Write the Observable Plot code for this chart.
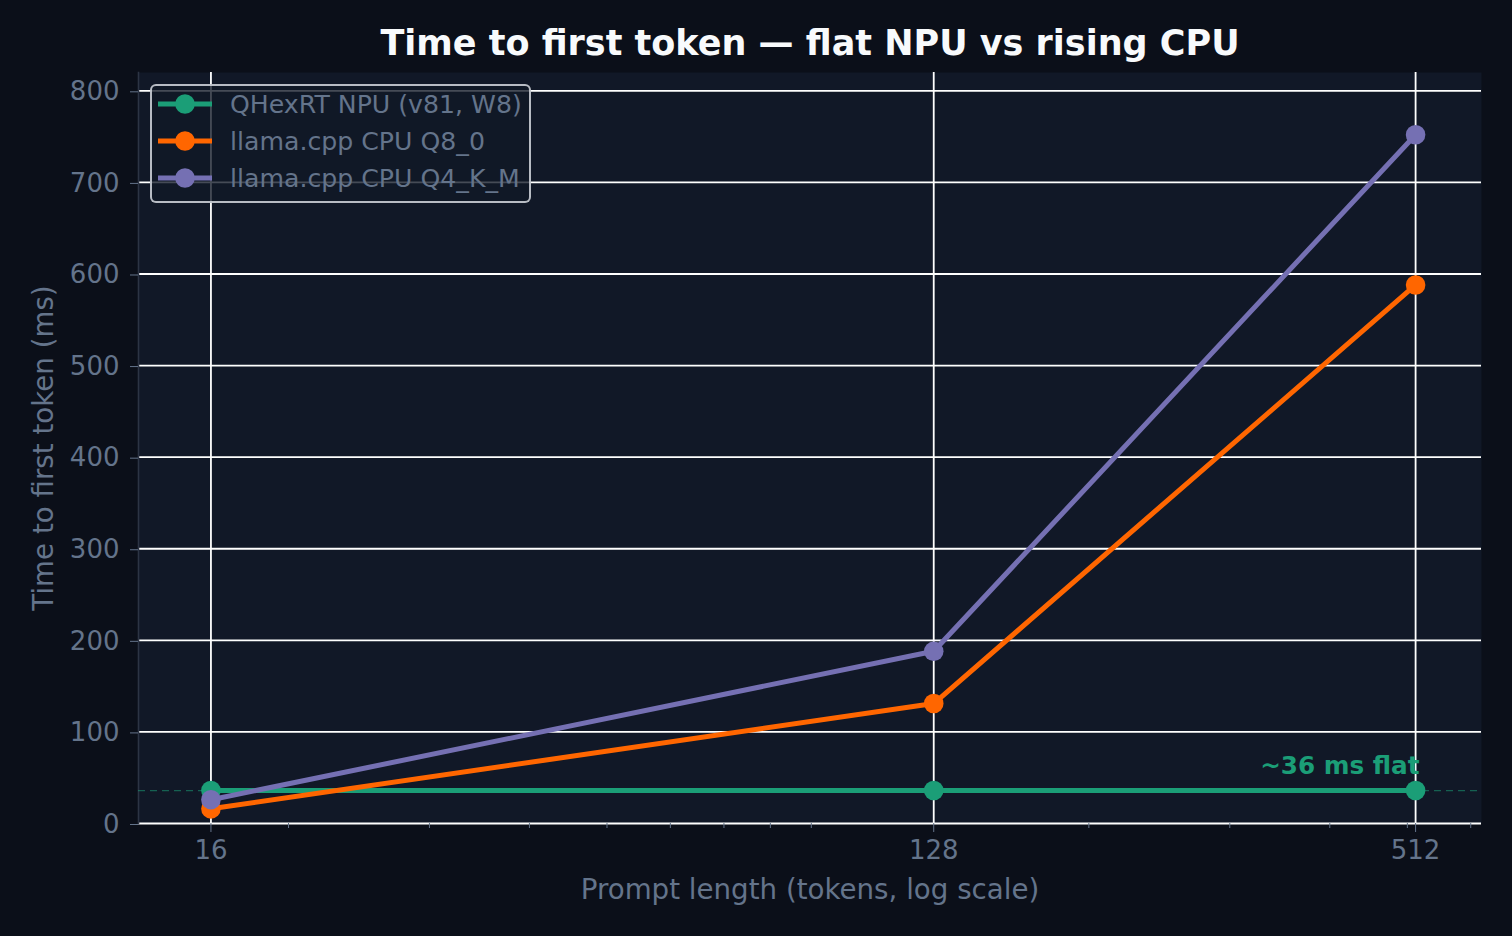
<!DOCTYPE html>
<html>
<head>
<meta charset="utf-8">
<script src="https://cdn.jsdelivr.net/npm/d3@7"></script>
<script src="https://cdn.jsdelivr.net/npm/@observablehq/plot@0.6"></script>
<style>
  html, body { margin: 0; padding: 0; background: #0b0f19; }
  body { width: 1512px; height: 936px; position: relative; overflow: hidden; font-family: "DejaVu Sans", sans-serif; }
  #title { position: absolute; left: 138px; width: 1344px; top: 0; height: 60px; box-sizing: border-box; padding-top: 26px;
           text-align: center; font-size: 35px; line-height: 35px; font-weight: bold; color: #f8fafc; white-space: nowrap; }
  #chart { position: absolute; left: 0; top: 60px; }
  #legend { position: absolute; left: 150px; top: 84px; width: 381px; height: 119px; box-sizing: border-box;
            border: 2px solid rgba(215,218,224,0.85); border-radius: 6px; background: rgba(17,24,39,0.78); }
  .row { position: absolute; left: 0; height: 30px; display: flex; align-items: center; }
  .row svg { margin-left: 4px; }
  .row span { margin-left: 18px; font-size: 25.2px; color: #64748b; white-space: nowrap; }
</style>
</head>
<body>
<div id="title"></div>
<div id="chart"></div>
<div id="legend"></div>
<script>
const titleText = "Time to first token — flat NPU vs rising CPU";
const xLabel = "Prompt length (tokens, log scale)";
const yLabel = "Time to first token (ms)";
const promptLengths = [16, 128, 512];
const seriesNames = ["QHexRT NPU (v81, W8)", "llama.cpp CPU Q8_0", "llama.cpp CPU Q4_K_M"];
const npuValues = [36, 36, 36];
const q8Values = [16, 131, 588];
const q4Values = [26, 188, 752];
const seriesColors = ["#1b9e77", "#ff6600", "#7570b3"];
const xTicks = [16, 128, 512];
const xMinorTicks = [20, 30, 40, 50, 60, 70, 80, 90, 200, 300, 400, 500, 600];
const yTicks = [0, 100, 200, 300, 400, 500, 600, 700, 800];
const npuFlatLevel = [36];
const annotationText = "~36 ms flat";

document.getElementById("title").textContent = titleText;

const allValues = [npuValues, q8Values, q4Values];
const rows = seriesNames.map((name, i) => promptLengths.map((x, j) => ({x, y: allValues[i][j], series: name})));

const tickColor = "#64748b";
const gridColor = "#ffffff";

const marks = [
  Plot.frame({fill: "#111827", stroke: null}),
  Plot.ruleY(yTicks, {stroke: gridColor, strokeWidth: 1.8}),
  Plot.ruleX(xTicks, {stroke: gridColor, strokeWidth: 1.8}),
  Plot.frame({anchor: "left", stroke: "#2c3444", strokeWidth: 1.6}),
  Plot.ruleY(npuFlatLevel, {stroke: seriesColors[0], strokeOpacity: 0.55, strokeWidth: 1.3, strokeDasharray: "7,5"}),
  Plot.axisY(yTicks, {tickSize: 8, tickPadding: 11, fontSize: 26, color: tickColor, stroke: tickColor, label: null, dy: 1}),
  Plot.axisX(xTicks, {tickSize: 9, tickPadding: 8, fontSize: 26, color: tickColor, stroke: tickColor, label: null, tickFormat: d => String(d)}),
  Plot.axisX(xMinorTicks, {tickSize: 5, stroke: tickColor, label: null, tickFormat: () => ""}),
];
rows.forEach((data, i) => {
  marks.push(Plot.line(data, {x: "x", y: "y", stroke: seriesColors[i], strokeWidth: 5}));
  marks.push(Plot.dot(data, {x: "x", y: "y", r: 9.8, fill: seriesColors[i], stroke: null}));
});
marks.push(Plot.text([{x: promptLengths[2], y: npuFlatLevel[0], t: annotationText}], {
  x: "x", y: "y", text: "t", textAnchor: "end", lineAnchor: "bottom", dx: 4, dy: -17,
  fill: seriesColors[0], fontSize: 24.7, fontWeight: "bold"
}));
marks.push(Plot.text([xLabel], {text: d => d, frameAnchor: "bottom", textAnchor: "middle", dy: 67, lineAnchor: "middle", fontSize: 27.7, fill: tickColor}));
marks.push(Plot.text([yLabel], {text: d => d, frameAnchor: "left", textAnchor: "middle", dx: -94, rotate: -90, lineAnchor: "middle", fontSize: 27.7, fill: tickColor}));

const chart = Plot.plot({
  width: 1512,
  height: 876,
  marginTop: 12,
  marginBottom: 113,
  marginLeft: 138,
  marginRight: 31,
  style: {background: "transparent", fontFamily: "DejaVu Sans, sans-serif", overflow: "visible"},
  x: {type: "log", domain: [12.99, 618.9], axis: null},
  y: {domain: [0, 820], axis: null},
  marks
});
document.getElementById("chart").appendChild(chart);

const legend = document.getElementById("legend");
const rowCenters = [18, 55, 92];
seriesNames.forEach((name, i) => {
  const row = document.createElement("div");
  row.className = "row";
  row.style.top = (rowCenters[i] - 15) + "px";
  row.innerHTML = `<svg width="56" height="30"><line x1="2" y1="15" x2="56" y2="15" stroke="${seriesColors[i]}" stroke-width="5"/><circle cx="29" cy="15" r="9.8" fill="${seriesColors[i]}"/></svg><span></span>`;
  row.querySelector("span").textContent = name;
  legend.appendChild(row);
});
</script>
</body>
</html>
